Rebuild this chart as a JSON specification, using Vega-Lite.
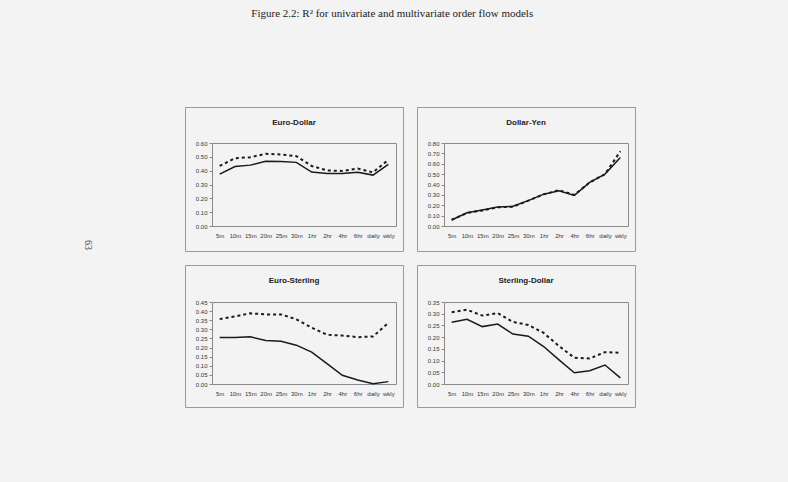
{
  "$schema": "https://vega.github.io/schema/vega-lite/v6.json",
  "background": "#f3f3f3",
  "padding": {"left": 83, "top": 7, "right": 154, "bottom": 76},
  "title": {"text": "Figure 2.2: R² for univariate and multivariate order flow models", "font": "Liberation Serif", "fontSize": 11, "fontWeight": "normal", "color": "#222", "anchor": "middle", "dx": 33, "offset": 88},
  "datasets": {
    "euro_dollar": [
      {"freq": "5m", "model": "univariate", "r2": 0.375}, {"freq": "10m", "model": "univariate", "r2": 0.43}, {"freq": "15m", "model": "univariate", "r2": 0.44}, {"freq": "20m", "model": "univariate", "r2": 0.468}, {"freq": "25m", "model": "univariate", "r2": 0.466}, {"freq": "30m", "model": "univariate", "r2": 0.46}, {"freq": "1hr", "model": "univariate", "r2": 0.39}, {"freq": "2hr", "model": "univariate", "r2": 0.38}, {"freq": "4hr", "model": "univariate", "r2": 0.38}, {"freq": "6hr", "model": "univariate", "r2": 0.388}, {"freq": "daily", "model": "univariate", "r2": 0.368}, {"freq": "wkly", "model": "univariate", "r2": 0.445},
      {"freq": "5m", "model": "multivariate", "r2": 0.434}, {"freq": "10m", "model": "multivariate", "r2": 0.49}, {"freq": "15m", "model": "multivariate", "r2": 0.497}, {"freq": "20m", "model": "multivariate", "r2": 0.522}, {"freq": "25m", "model": "multivariate", "r2": 0.517}, {"freq": "30m", "model": "multivariate", "r2": 0.505}, {"freq": "1hr", "model": "multivariate", "r2": 0.434}, {"freq": "2hr", "model": "multivariate", "r2": 0.402}, {"freq": "4hr", "model": "multivariate", "r2": 0.398}, {"freq": "6hr", "model": "multivariate", "r2": 0.415}, {"freq": "daily", "model": "multivariate", "r2": 0.388}, {"freq": "wkly", "model": "multivariate", "r2": 0.478}
    ],
    "dollar_yen": [
      {"freq": "5m", "model": "univariate", "r2": 0.058}, {"freq": "10m", "model": "univariate", "r2": 0.128}, {"freq": "15m", "model": "univariate", "r2": 0.154}, {"freq": "20m", "model": "univariate", "r2": 0.182}, {"freq": "25m", "model": "univariate", "r2": 0.19}, {"freq": "30m", "model": "univariate", "r2": 0.245}, {"freq": "1hr", "model": "univariate", "r2": 0.307}, {"freq": "2hr", "model": "univariate", "r2": 0.34}, {"freq": "4hr", "model": "univariate", "r2": 0.295}, {"freq": "6hr", "model": "univariate", "r2": 0.42}, {"freq": "daily", "model": "univariate", "r2": 0.5}, {"freq": "wkly", "model": "univariate", "r2": 0.66},
      {"freq": "5m", "model": "multivariate", "r2": 0.06}, {"freq": "10m", "model": "multivariate", "r2": 0.125}, {"freq": "15m", "model": "multivariate", "r2": 0.15}, {"freq": "20m", "model": "multivariate", "r2": 0.18}, {"freq": "25m", "model": "multivariate", "r2": 0.185}, {"freq": "30m", "model": "multivariate", "r2": 0.245}, {"freq": "1hr", "model": "multivariate", "r2": 0.305}, {"freq": "2hr", "model": "multivariate", "r2": 0.345}, {"freq": "4hr", "model": "multivariate", "r2": 0.3}, {"freq": "6hr", "model": "multivariate", "r2": 0.42}, {"freq": "daily", "model": "multivariate", "r2": 0.5}, {"freq": "wkly", "model": "multivariate", "r2": 0.72}
    ],
    "euro_sterling": [
      {"freq": "5m", "model": "univariate", "r2": 0.255}, {"freq": "10m", "model": "univariate", "r2": 0.255}, {"freq": "15m", "model": "univariate", "r2": 0.259}, {"freq": "20m", "model": "univariate", "r2": 0.239}, {"freq": "25m", "model": "univariate", "r2": 0.235}, {"freq": "30m", "model": "univariate", "r2": 0.213}, {"freq": "1hr", "model": "univariate", "r2": 0.175}, {"freq": "2hr", "model": "univariate", "r2": 0.112}, {"freq": "4hr", "model": "univariate", "r2": 0.048}, {"freq": "6hr", "model": "univariate", "r2": 0.022}, {"freq": "daily", "model": "univariate", "r2": 0.002}, {"freq": "wkly", "model": "univariate", "r2": 0.013},
      {"freq": "5m", "model": "multivariate", "r2": 0.356}, {"freq": "10m", "model": "multivariate", "r2": 0.371}, {"freq": "15m", "model": "multivariate", "r2": 0.388}, {"freq": "20m", "model": "multivariate", "r2": 0.382}, {"freq": "25m", "model": "multivariate", "r2": 0.382}, {"freq": "30m", "model": "multivariate", "r2": 0.355}, {"freq": "1hr", "model": "multivariate", "r2": 0.309}, {"freq": "2hr", "model": "multivariate", "r2": 0.27}, {"freq": "4hr", "model": "multivariate", "r2": 0.266}, {"freq": "6hr", "model": "multivariate", "r2": 0.257}, {"freq": "daily", "model": "multivariate", "r2": 0.261}, {"freq": "wkly", "model": "multivariate", "r2": 0.336}
    ],
    "sterling_dollar": [
      {"freq": "5m", "model": "univariate", "r2": 0.264}, {"freq": "10m", "model": "univariate", "r2": 0.276}, {"freq": "15m", "model": "univariate", "r2": 0.245}, {"freq": "20m", "model": "univariate", "r2": 0.256}, {"freq": "25m", "model": "univariate", "r2": 0.213}, {"freq": "30m", "model": "univariate", "r2": 0.204}, {"freq": "1hr", "model": "univariate", "r2": 0.16}, {"freq": "2hr", "model": "univariate", "r2": 0.103}, {"freq": "4hr", "model": "univariate", "r2": 0.048}, {"freq": "6hr", "model": "univariate", "r2": 0.057}, {"freq": "daily", "model": "univariate", "r2": 0.081}, {"freq": "wkly", "model": "univariate", "r2": 0.026},
      {"freq": "5m", "model": "multivariate", "r2": 0.306}, {"freq": "10m", "model": "multivariate", "r2": 0.317}, {"freq": "15m", "model": "multivariate", "r2": 0.292}, {"freq": "20m", "model": "multivariate", "r2": 0.303}, {"freq": "25m", "model": "multivariate", "r2": 0.265}, {"freq": "30m", "model": "multivariate", "r2": 0.252}, {"freq": "1hr", "model": "multivariate", "r2": 0.218}, {"freq": "2hr", "model": "multivariate", "r2": 0.162}, {"freq": "4hr", "model": "multivariate", "r2": 0.112}, {"freq": "6hr", "model": "multivariate", "r2": 0.109}, {"freq": "daily", "model": "multivariate", "r2": 0.136}, {"freq": "wkly", "model": "multivariate", "r2": 0.133}
    ]
  },
  "spacing": 91,
  "hconcat": [
    {
      "width": 10, "height": 276,
      "view": {"stroke": null},
      "data": {"values": [{"page": "63"}]},
      "mark": {"type": "text", "angle": 90, "font": "Liberation Serif", "fontSize": 10, "color": "#444", "align": "center", "baseline": "middle"},
      "encoding": {"text": {"field": "page", "type": "nominal"}}
    },
    {
      "spacing": 12,
      "vconcat": [
        {
          "spacing": 12,
          "hconcat": [
            {
              "width": 218, "height": 144,
              "data": {"name": "euro_dollar"},
              "title": {"text": "Euro-Dollar", "offset": -26, "baseline": "alphabetic", "font": "Liberation Sans", "fontSize": 8, "fontWeight": "bold", "color": "#222", "anchor": "middle"},
              "layer": [
                {"transform": [{"filter": "datum.model === 'univariate'"}], "mark": {"type": "line", "color": "#1a1a1a", "strokeWidth": 1.5},
                 "encoding": {
                   "x": {"field": "freq", "type": "ordinal", "sort": ["5m","10m","15m","20m","25m","30m","1hr","2hr","4hr","6hr","daily","wkly"], "scale": {"type": "point", "padding": 0.5, "range": [27, 211]}, "axis": {"orient": "bottom", "offset": -25, "labelAngle": 0, "ticks": false, "labelPadding": 6, "title": null}},
                   "y": {"field": "r2", "type": "quantitative", "scale": {"domain": [0, 0.6], "range": [119, 36], "nice": false}, "axis": {"orient": "left", "offset": -27, "values": [0,0.1,0.2,0.3,0.4,0.5,0.6], "format": ".2f", "tickSize": 3, "labelPadding": 2, "title": null}}}},
                {"transform": [{"filter": "datum.model === 'multivariate'"}], "mark": {"type": "line", "color": "#1a1a1a", "strokeWidth": 2, "strokeDash": [3, 3]},
                 "encoding": {
                   "x": {"field": "freq", "type": "ordinal", "sort": ["5m","10m","15m","20m","25m","30m","1hr","2hr","4hr","6hr","daily","wkly"], "scale": {"type": "point", "padding": 0.5, "range": [27, 211]}, "axis": null},
                   "y": {"field": "r2", "type": "quantitative", "scale": {"domain": [0, 0.6], "range": [119, 36], "nice": false}, "axis": null}}},
                {"mark": {"type": "line", "strokeOpacity": 0},
                 "encoding": {
                   "x": {"field": "freq", "type": "ordinal", "sort": ["5m","10m","15m","20m","25m","30m","1hr","2hr","4hr","6hr","daily","wkly"], "scale": {"type": "point", "padding": 0.5, "range": [27, 211]}, "axis": {"orient": "top", "offset": -36, "labels": false, "ticks": false, "title": null}},
                   "y": {"field": "r2", "type": "quantitative", "scale": {"domain": [0, 0.6], "range": [119, 36], "nice": false}, "axis": {"orient": "right", "offset": -7, "labels": false, "ticks": false, "title": null}}}}
              ],
              "resolve": {"axis": {"x": "independent", "y": "independent"}}
            },
            {
              "width": 218, "height": 144,
              "data": {"name": "dollar_yen"},
              "title": {"text": "Dollar-Yen", "offset": -26, "baseline": "alphabetic", "font": "Liberation Sans", "fontSize": 8, "fontWeight": "bold", "color": "#222", "anchor": "middle"},
              "layer": [
                {"transform": [{"filter": "datum.model === 'univariate'"}], "mark": {"type": "line", "color": "#1a1a1a", "strokeWidth": 1.5},
                 "encoding": {
                   "x": {"field": "freq", "type": "ordinal", "sort": ["5m","10m","15m","20m","25m","30m","1hr","2hr","4hr","6hr","daily","wkly"], "scale": {"type": "point", "padding": 0.5, "range": [27, 211]}, "axis": {"orient": "bottom", "offset": -25, "labelAngle": 0, "ticks": false, "labelPadding": 6, "title": null}},
                   "y": {"field": "r2", "type": "quantitative", "scale": {"domain": [0, 0.8], "range": [119, 36], "nice": false}, "axis": {"orient": "left", "offset": -27, "values": [0,0.1,0.2,0.3,0.4,0.5,0.6,0.7,0.8], "format": ".2f", "tickSize": 3, "labelPadding": 2, "title": null}}}},
                {"transform": [{"filter": "datum.model === 'multivariate'"}], "mark": {"type": "line", "color": "#1a1a1a", "strokeWidth": 2, "strokeDash": [3, 3]},
                 "encoding": {
                   "x": {"field": "freq", "type": "ordinal", "sort": ["5m","10m","15m","20m","25m","30m","1hr","2hr","4hr","6hr","daily","wkly"], "scale": {"type": "point", "padding": 0.5, "range": [27, 211]}, "axis": null},
                   "y": {"field": "r2", "type": "quantitative", "scale": {"domain": [0, 0.8], "range": [119, 36], "nice": false}, "axis": null}}},
                {"mark": {"type": "line", "strokeOpacity": 0},
                 "encoding": {
                   "x": {"field": "freq", "type": "ordinal", "sort": ["5m","10m","15m","20m","25m","30m","1hr","2hr","4hr","6hr","daily","wkly"], "scale": {"type": "point", "padding": 0.5, "range": [27, 211]}, "axis": {"orient": "top", "offset": -36, "labels": false, "ticks": false, "title": null}},
                   "y": {"field": "r2", "type": "quantitative", "scale": {"domain": [0, 0.8], "range": [119, 36], "nice": false}, "axis": {"orient": "right", "offset": -7, "labels": false, "ticks": false, "title": null}}}}
              ],
              "resolve": {"axis": {"x": "independent", "y": "independent"}}
            }
          ]
        },
        {
          "spacing": 12,
          "hconcat": [
            {
              "width": 218, "height": 142,
              "data": {"name": "euro_sterling"},
              "title": {"text": "Euro-Sterling", "offset": -26, "baseline": "alphabetic", "font": "Liberation Sans", "fontSize": 8, "fontWeight": "bold", "color": "#222", "anchor": "middle"},
              "layer": [
                {"transform": [{"filter": "datum.model === 'univariate'"}], "mark": {"type": "line", "color": "#1a1a1a", "strokeWidth": 1.5},
                 "encoding": {
                   "x": {"field": "freq", "type": "ordinal", "sort": ["5m","10m","15m","20m","25m","30m","1hr","2hr","4hr","6hr","daily","wkly"], "scale": {"type": "point", "padding": 0.5, "range": [27, 211]}, "axis": {"orient": "bottom", "offset": -23, "labelAngle": 0, "ticks": false, "labelPadding": 6, "title": null}},
                   "y": {"field": "r2", "type": "quantitative", "scale": {"domain": [0, 0.45], "range": [119, 37], "nice": false}, "axis": {"orient": "left", "offset": -27, "values": [0,0.05,0.1,0.15,0.2,0.25,0.3,0.35,0.4,0.45], "format": ".2f", "tickSize": 3, "labelPadding": 2, "title": null}}}},
                {"transform": [{"filter": "datum.model === 'multivariate'"}], "mark": {"type": "line", "color": "#1a1a1a", "strokeWidth": 2, "strokeDash": [3, 3]},
                 "encoding": {
                   "x": {"field": "freq", "type": "ordinal", "sort": ["5m","10m","15m","20m","25m","30m","1hr","2hr","4hr","6hr","daily","wkly"], "scale": {"type": "point", "padding": 0.5, "range": [27, 211]}, "axis": null},
                   "y": {"field": "r2", "type": "quantitative", "scale": {"domain": [0, 0.45], "range": [119, 37], "nice": false}, "axis": null}}},
                {"mark": {"type": "line", "strokeOpacity": 0},
                 "encoding": {
                   "x": {"field": "freq", "type": "ordinal", "sort": ["5m","10m","15m","20m","25m","30m","1hr","2hr","4hr","6hr","daily","wkly"], "scale": {"type": "point", "padding": 0.5, "range": [27, 211]}, "axis": {"orient": "top", "offset": -37, "labels": false, "ticks": false, "title": null}},
                   "y": {"field": "r2", "type": "quantitative", "scale": {"domain": [0, 0.45], "range": [119, 37], "nice": false}, "axis": {"orient": "right", "offset": -7, "labels": false, "ticks": false, "title": null}}}}
              ],
              "resolve": {"axis": {"x": "independent", "y": "independent"}}
            },
            {
              "width": 218, "height": 142,
              "data": {"name": "sterling_dollar"},
              "title": {"text": "Sterling-Dollar", "offset": -26, "baseline": "alphabetic", "font": "Liberation Sans", "fontSize": 8, "fontWeight": "bold", "color": "#222", "anchor": "middle"},
              "layer": [
                {"transform": [{"filter": "datum.model === 'univariate'"}], "mark": {"type": "line", "color": "#1a1a1a", "strokeWidth": 1.5},
                 "encoding": {
                   "x": {"field": "freq", "type": "ordinal", "sort": ["5m","10m","15m","20m","25m","30m","1hr","2hr","4hr","6hr","daily","wkly"], "scale": {"type": "point", "padding": 0.5, "range": [27, 211]}, "axis": {"orient": "bottom", "offset": -23, "labelAngle": 0, "ticks": false, "labelPadding": 6, "title": null}},
                   "y": {"field": "r2", "type": "quantitative", "scale": {"domain": [0, 0.35], "range": [119, 37], "nice": false}, "axis": {"orient": "left", "offset": -27, "values": [0,0.05,0.1,0.15,0.2,0.25,0.3,0.35], "format": ".2f", "tickSize": 3, "labelPadding": 2, "title": null}}}},
                {"transform": [{"filter": "datum.model === 'multivariate'"}], "mark": {"type": "line", "color": "#1a1a1a", "strokeWidth": 2, "strokeDash": [3, 3]},
                 "encoding": {
                   "x": {"field": "freq", "type": "ordinal", "sort": ["5m","10m","15m","20m","25m","30m","1hr","2hr","4hr","6hr","daily","wkly"], "scale": {"type": "point", "padding": 0.5, "range": [27, 211]}, "axis": null},
                   "y": {"field": "r2", "type": "quantitative", "scale": {"domain": [0, 0.35], "range": [119, 37], "nice": false}, "axis": null}}},
                {"mark": {"type": "line", "strokeOpacity": 0},
                 "encoding": {
                   "x": {"field": "freq", "type": "ordinal", "sort": ["5m","10m","15m","20m","25m","30m","1hr","2hr","4hr","6hr","daily","wkly"], "scale": {"type": "point", "padding": 0.5, "range": [27, 211]}, "axis": {"orient": "top", "offset": -37, "labels": false, "ticks": false, "title": null}},
                   "y": {"field": "r2", "type": "quantitative", "scale": {"domain": [0, 0.35], "range": [119, 37], "nice": false}, "axis": {"orient": "right", "offset": -7, "labels": false, "ticks": false, "title": null}}}}
              ],
              "resolve": {"axis": {"x": "independent", "y": "independent"}}
            }
          ]
        }
      ]
    }
  ],
  "config": {
    "view": {"stroke": "#9a9a9a", "strokeWidth": 1},
    "axis": {"labelFont": "Liberation Sans", "labelFontSize": 6, "labelColor": "#333", "domainColor": "#8a8a8a", "tickColor": "#8a8a8a", "grid": false}
  }
}
